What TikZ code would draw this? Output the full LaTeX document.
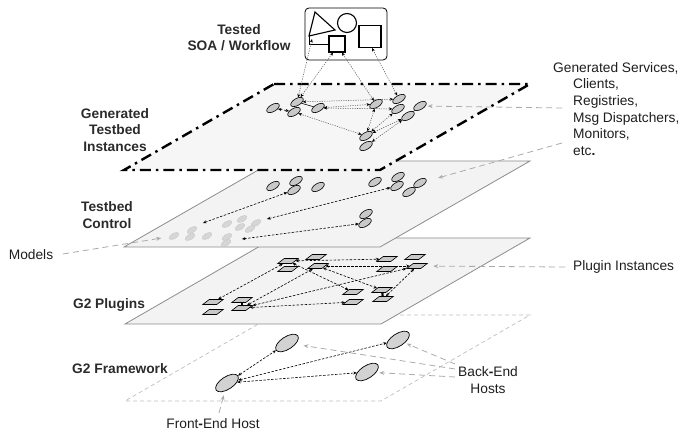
\documentclass[tikz,border=0pt]{standalone}
\usepackage{fontspec}
\setmainfont{Liberation Sans}
\usetikzlibrary{shapes.geometric,arrows.meta}
\definecolor{layfill}{HTML}{F3F3F3}
\definecolor{lonefill}{HTML}{F6F6F6}
\definecolor{laydraw}{HTML}{8C8C8C}
\definecolor{instfill}{HTML}{C8C8C8}
\definecolor{hostfill}{HTML}{D2D2D2}
\definecolor{mdlfill}{HTML}{D6D6D6}
\definecolor{mdldraw}{HTML}{C4C4C4}
\definecolor{glinkc}{HTML}{606060}
\definecolor{notec}{HTML}{ABABAB}
\definecolor{lfourc}{HTML}{BDBDBD}
\definecolor{lblc}{HTML}{2B2B2B}
\definecolor{nlblc}{HTML}{1E1E1E}
\tikzset{
 lay/.style={fill=layfill, draw=laydraw, line width=0.8bp},
 inst/.style={ellipse, draw=black, fill=instfill, line width=0.6bp, minimum width=14bp, minimum height=7bp, inner sep=0pt, rotate=30},
 mdl/.style={ellipse, fill=mdlfill, draw=mdldraw, line width=0.3bp, minimum width=11bp, minimum height=5.5bp, inner sep=0pt, rotate=30},
 plug/.style={rectangle, draw=black, fill=instfill, line width=0.6bp, minimum width=14bp, minimum height=5bp, inner sep=0pt, xslant=1.3},
 host/.style={ellipse, draw=black, fill=hostfill, line width=0.7bp, minimum width=26bp, minimum height=12.5bp, inner sep=0pt, rotate=33},
 dlink/.style={line width=0.6bp, dash pattern=on 2.5bp off 1.5bp, {Stealth[length=3.5bp,width=3bp]}-{Stealth[length=3.5bp,width=3bp]}},
 glink/.style={draw=glinkc, line width=0.55bp, dash pattern=on 1.2bp off 1.2bp, {Stealth[length=3.5bp,width=3bp,color=black]}-{Stealth[length=3.5bp,width=3bp,color=black]}},
 note/.style={draw=notec, line width=0.8bp, dash pattern=on 6bp off 4bp, -{Stealth[length=5bp,width=4bp]}},
 blbl/.style={font=\fontsize{13.8}{16.7}\selectfont\bfseries, text=lblc, align=center, inner sep=0pt},
 nlbl/.style={text=nlblc, inner sep=0pt},
 shp/.style={draw=black, line width=1.1bp, inner sep=0pt},
}
\begin{document}
\begin{tikzpicture}[x=1bp,y=-1bp,font=\fontsize{13.8}{16.7}\selectfont]
\useasboundingbox (0,0) rectangle (680,435);

%% ---------- Layer 4: G2 Framework ----------
\path[draw=lfourc, line width=0.7bp, dash pattern=on 4bp off 3bp] (274,315) -- (530,315) -- (381,401) -- (125,401) -- cycle;
\node[host] (h1) at (227,383) {};
\node[host] (h2) at (287,343) {};
\node[host] (h3) at (398,340) {};
\node[host] (h4) at (367,372) {};
\draw[dlink] (h1) -- (h2);
\draw[dlink] (h1) -- (h3);
\draw[dlink] (h1) -- (h4);

%% ---------- Layer 3: G2 Plugins ----------
\path[lay] (274,238) -- (530,238) -- (381,324) -- (125,324) -- cycle;
\node[plug] (p1) at (288,261) {};
\node[plug] (p2) at (316,257) {};
\node[plug] (p3) at (288,269) {};
\node[plug] (p4) at (318,266) {};
\node[plug] (p5) at (387,259) {};
\node[plug] (p6) at (415,257) {};
\node[plug] (p7) at (387,269) {};
\node[plug] (p8) at (417,266) {};
\node[plug] (p9) at (353,292) {};
\node[plug] (p10) at (382,290) {};
\node[plug] (p11) at (353,302) {};
\node[plug] (p12) at (383,299) {};
\node[plug] (p13) at (213,302) {};
\node[plug] (p14) at (242,300) {};
\node[plug] (p15) at (213,312) {};
\node[plug] (p16) at (242,308) {};
\draw[dlink] (p1) -- (p5);
\draw[dlink] (p4) -- (p8);
\draw[dlink] (p1) -- (p13);
\draw[dlink] (p1) -- (p9);
\draw[dlink] (p4) -- (p10);
\draw[dlink] (p4) -- (p16);
\draw[dlink] (p8) -- (p16);
\draw[dlink] (p11) -- (p16);
\draw[dlink] (p8) -- (p12);
\draw[dlink] (p10) -- (p12);
\draw[dlink] (p14) -- (p16);

%% ---------- Layer 2: Testbed Control ----------
\path[lay] (274,161) -- (530,161) -- (380,247) -- (124,247) -- cycle;
\node[inst] (f1) at (273,186) {};
\node[inst] (f2) at (296,181) {};
\node[inst] (f3) at (294,190) {};
\node[inst] (f4) at (318,187) {};
\node[inst] (f5) at (375,182) {};
\node[inst] (f6) at (398,177) {};
\node[inst] (f7) at (397,186) {};
\node[inst] (f8) at (420,183) {};
\node[inst] (f9) at (409,192) {};
\node[inst] (f10) at (366,214) {};
\node[inst] (f11) at (365,223) {};
\node[mdl] (m1) at (174,236) {};
\node[mdl] (m2) at (192,230) {};
\node[mdl] (m3) at (190,237) {};
\node[mdl] (m4) at (207,236) {};
\node[mdl] (m5) at (227,224) {};
\node[mdl] (m6) at (242,219) {};
\node[mdl] (m7) at (240,227) {};
\node[mdl] (m8) at (256,223) {};
\node[mdl] (m9) at (250,229) {};
\node[mdl] (m10) at (227,237) {};
\node[mdl] (m11) at (226,243) {};
\coordinate (c1) at (203,223);
\coordinate (c2) at (267,219);
\coordinate (c3) at (242,239);
\draw[dlink] (c1) -- (f3);
\draw[dlink] (c2) -- (f7);
\draw[dlink] (c3) -- (f11);

%% ---------- Layer 1: Generated Testbed Instances ----------
\path[fill=lonefill, draw=black, line width=2.4bp, dash pattern=on 11bp off 5bp on 2.5bp off 5bp] (274,84) -- (530,84) -- (380,170) -- (124,170) -- cycle;
\node[inst] (e1) at (273,108) {};
\node[inst] (e2) at (297,102) {};
\node[inst] (e3) at (294,112) {};
\node[inst] (e4) at (318,108) {};
\node[inst] (e5) at (376,104) {};
\node[inst] (e6) at (399,99) {};
\node[inst] (e7) at (398,109) {};
\node[inst] (e8) at (420,106) {};
\node[inst] (e9) at (408,116) {};
\node[inst] (e10) at (366,136) {};
\node[inst] (e11) at (366,146) {};
\draw[dlink] (e1) -- (e3);
\draw[line width=0.6bp] (e2) -- (e4);
\draw[line width=0.6bp] (e9) -- (e8);
\draw[glink] (e2) -- (e6);
\draw[glink] (e4) -- (e5);
\draw[glink] (e4) -- (e7);
\draw[glink] (e3) -- (e10);
\draw[glink] (e5) -- (e10);
\draw[glink] (e7) -- (e10);
\draw[glink] (e9) -- (e10);
\draw[glink] (e9) -- (e11);

%% ---------- Tested SOA / Workflow ----------
\node[draw=black, line width=0.8bp, rounded corners=4bp, minimum width=82bp, minimum height=52bp, inner sep=0pt] (soa) at (346,34) {};
\draw[line width=1.1bp, line join=miter] (315,12) -- (335,30) -- (309,36) -- cycle;
\node[shp, circle, minimum size=19bp] (circ) at (347,23) {};
\node[shp, rectangle, minimum size=16bp] (sqs) at (337,44) {};
\node[shp, rectangle, minimum size=22bp] (sqb) at (370,36.5) {};
\draw[line width=0.7bp] (309,36) |- (sqs.west);
\coordinate (tri) at (312,39);
\draw[glink] (tri) -- (e2);
\draw[glink] (sqs.-115) -- (e2);
\draw[glink] (sqs.-60) -- (e5);
\draw[glink] (sqb.-80) -- (e6);

%% ---------- Labels ----------
\node[blbl] (ltested) at (239,37.5) {Tested\\SOA / Workflow};
\node[blbl] (lgen) at (115,130) {Generated\\Testbed\\Instances};
\node[blbl] (lctl) at (107,215) {Testbed\\Control};
\node[blbl] (lplug) at (109,305) {G2 Plugins};
\node[blbl] (lfw) at (120,369) {G2 Framework};
\node[nlbl] (lmod) at (31,255) {Models};
\node[nlbl, align=left, anchor=west] (lgs) at (553,109) {Generated Services,\\\hspace*{20bp}Clients,\\\hspace*{20bp}Registries,\\\hspace*{20bp}Msg Dispatchers,\\\hspace*{20bp}Monitors,\\\hspace*{20bp}etc{\bfseries .}};
\node[nlbl, anchor=west] (lpi) at (573,267) {Plugin Instances};
\node[nlbl, align=center] (lbe) at (488,380) {Back{\bfseries -}End\\Hosts};
\node[nlbl] (lfe) at (213,424) {Front{\bfseries -}End Host};

%% ---------- Annotation lines ----------
\coordinate (gsA) at (562,108);
\coordinate (gsB) at (562,143);
\coordinate (piA) at (565,267);
\coordinate (beA) at (455,364);
\coordinate (beB) at (455,369);
\coordinate (beC) at (455,377);
\coordinate (feA) at (219,413);
\coordinate (moA) at (63,254);
\draw[note, shorten >=2bp] (gsA) -- (e8);
\draw[note, shorten >=12bp] (gsB) -- (f8);
\draw[note, shorten >=9bp] (piA) -- (p8);
\draw[note, shorten >=2bp] (beA) -- (h3);
\draw[note, shorten >=8bp] (beB) -- (h2);
\draw[note, shorten >=3bp] (beC) -- (h4);
\draw[note, shorten >=4bp] (feA) -- (h1);
\draw[note, shorten >=8bp] (moA) -- (m1);
\end{tikzpicture}
\end{document}
